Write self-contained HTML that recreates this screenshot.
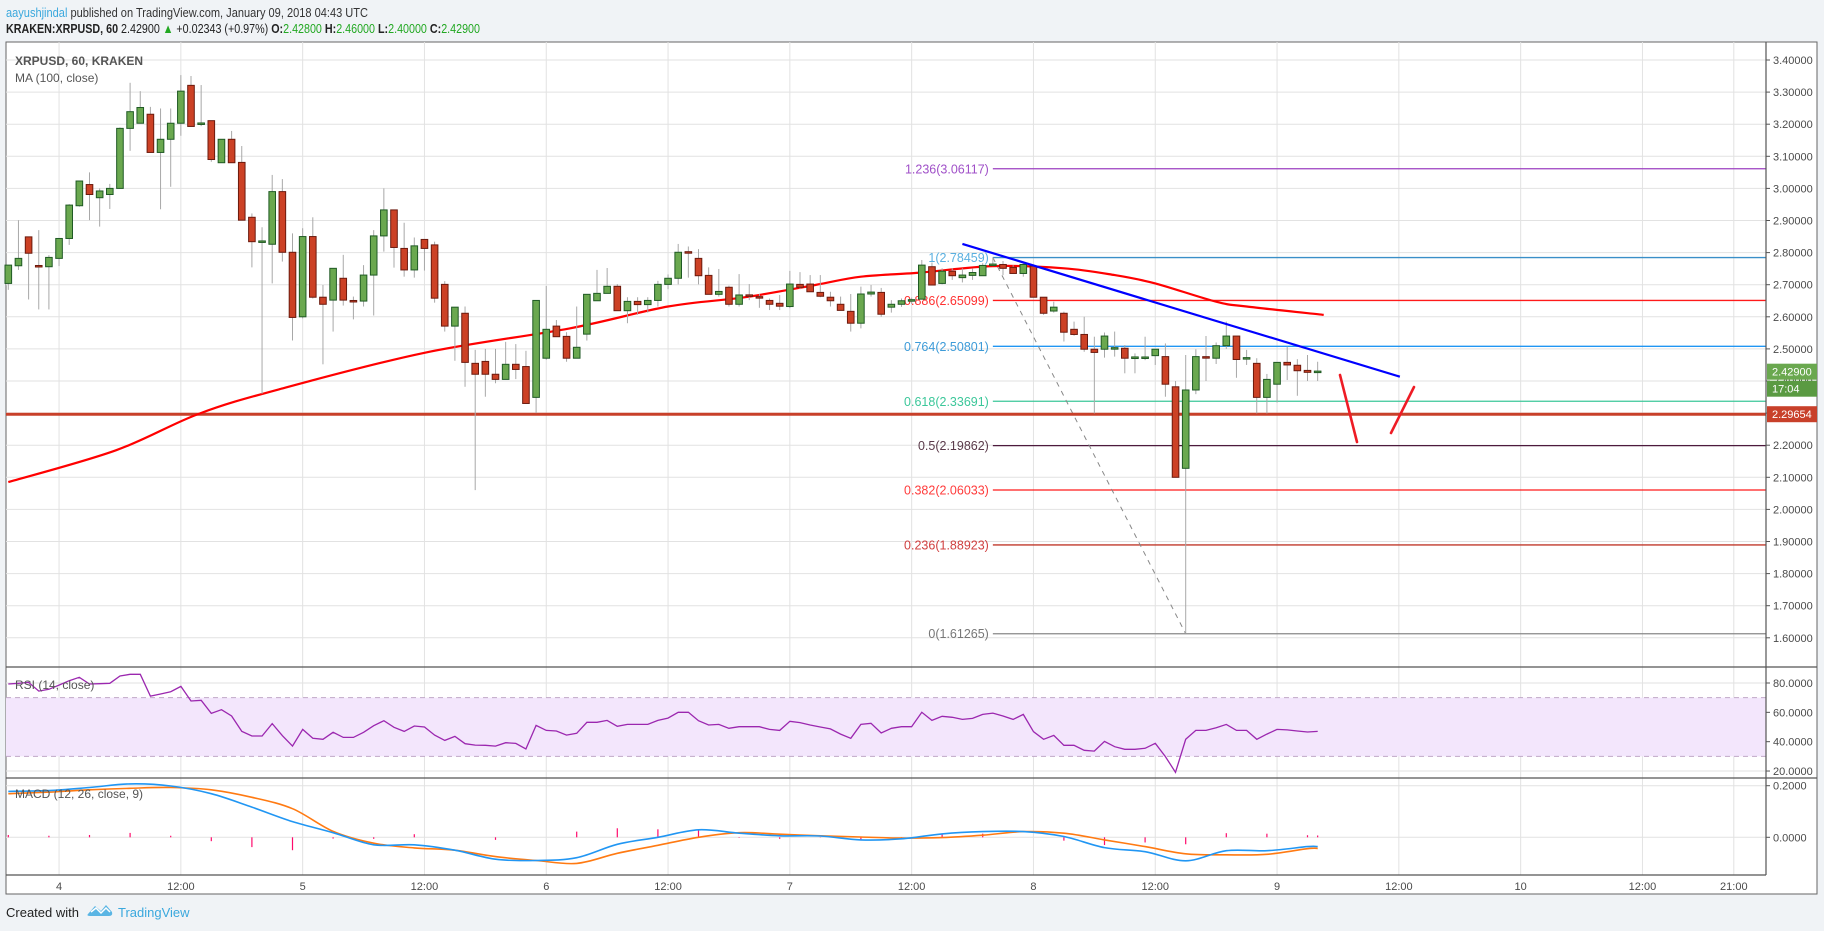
<!DOCTYPE html>
<html><head><meta charset="utf-8"><title>XRPUSD chart</title>
<style>
html,body{margin:0;padding:0;background:#f0f3f6;}
svg{display:block;font-family:"Liberation Sans",sans-serif;}
</style></head>
<body>
<svg id="chart" xmlns="http://www.w3.org/2000/svg" width="1824" height="931" viewBox="0 0 1824 931">
  <rect x="0" y="0" width="1824" height="931" fill="#f0f3f6"/>
  <text x="6" y="17" font-size="13" fill="#333" textLength="362" lengthAdjust="spacingAndGlyphs"><tspan fill="#3aa8dd">aayushjindal</tspan> published on TradingView.com, January 09, 2018 04:43 UTC</text>
  <text x="6" y="33" font-size="13" fill="#222" textLength="474" lengthAdjust="spacingAndGlyphs"><tspan font-weight="bold">KRAKEN:XRPUSD, 60</tspan> 2.42900 <tspan fill="#22a822">▲</tspan> +0.02343 (+0.97%) <tspan font-weight="bold">O:</tspan><tspan fill="#22a822">2.42800</tspan> <tspan font-weight="bold">H:</tspan><tspan fill="#22a822">2.46000</tspan> <tspan font-weight="bold">L:</tspan><tspan fill="#22a822">2.40000</tspan> <tspan font-weight="bold">C:</tspan><tspan fill="#22a822">2.42900</tspan></text>
  <rect x="6" y="42" width="1811" height="852" fill="#ffffff" stroke="#666" stroke-width="1"/>
  <g id="grid"></g>
  <g id="rsiBand"></g>
  <g id="fib"></g>
  <g id="ma"></g>
  <g id="candles"></g>
  <g id="drawings"></g>
  <g id="rsi"></g>
  <g id="macd"></g>
  <g id="axes"></g>
  <text x="15" y="65" font-size="12" font-weight="bold" fill="#555">XRPUSD, 60, KRAKEN</text>
  <text x="15" y="82" font-size="12" fill="#555">MA (100, close)</text>
  <text x="15" y="689" font-size="12" fill="#555">RSI (14, close)</text>
  <text x="15" y="798" font-size="12" fill="#555">MACD (12, 26, close, 9)</text>
  <text x="6" y="917" font-size="13" fill="#222">Created with</text>
  <g>
    <path d="M88 914 L95 906 L101 911 L106 905 L112 912 Q113 916 109 916 L91 916 Q86 916 88 914 Z" fill="#5ab5e4"/>
    <path d="M91 912 L96 908 L101 913 L106 908 L110 912" stroke="#fff" stroke-width="1.5" fill="none"/>
    <text x="118" y="917" font-size="13" fill="#3aa8dd">TradingView</text>
  </g>
</svg>
<script>
// ---------- data ----------
const opens  = [2.704,2.759,2.849,2.758,2.756,2.782,2.844,2.946,3.012,2.971,2.981,3.000,3.187,3.203,3.231,3.112,3.153,3.203,3.321,3.200,3.211,3.080,3.153,3.081,2.910,2.834,2.826,2.990,2.801,2.600,2.850,2.661,2.652,2.720,2.649,2.649,2.730,2.852,2.933,2.813,2.746,2.841,2.824,2.701,2.571,2.611,2.455,2.461,2.421,2.405,2.452,2.445,2.349,2.471,2.571,2.539,2.471,2.546,2.650,2.673,2.695,2.619,2.648,2.638,2.651,2.701,2.720,2.801,2.782,2.729,2.670,2.692,2.639,2.667,2.662,2.651,2.642,2.632,2.701,2.702,2.676,2.661,2.639,2.617,2.580,2.671,2.676,2.630,2.639,2.650,2.655,2.756,2.704,2.742,2.722,2.729,2.728,2.761,2.763,2.754,2.735,2.758,2.661,2.618,2.611,2.561,2.545,2.499,2.499,2.501,2.502,2.470,2.471,2.479,2.476,2.382,2.128,2.372,2.475,2.471,2.510,2.540,2.470,2.455,2.349,2.390,2.458,2.449,2.433,2.428];
const highs  = [2.761,2.901,2.849,2.870,2.792,2.844,2.951,3.023,3.050,3.000,3.014,3.190,3.329,3.303,3.254,3.249,3.249,3.353,3.350,3.322,3.211,3.153,3.179,3.132,2.922,2.879,3.042,3.029,2.860,2.876,2.910,2.699,2.751,2.793,2.663,2.761,2.870,3.000,2.933,2.893,2.847,2.841,2.834,2.711,2.630,2.632,2.497,2.500,2.500,2.522,2.515,2.494,2.651,2.696,2.590,2.552,2.632,2.670,2.746,2.752,2.702,2.661,2.661,2.661,2.712,2.732,2.827,2.819,2.811,2.754,2.749,2.697,2.733,2.702,2.671,2.657,2.668,2.743,2.739,2.730,2.730,2.678,2.663,2.671,2.694,2.699,2.690,2.652,2.657,2.660,2.777,2.769,2.751,2.751,2.751,2.751,2.767,2.785,2.774,2.761,2.770,2.758,2.661,2.647,2.616,2.585,2.600,2.538,2.551,2.554,2.512,2.486,2.538,2.499,2.517,2.400,2.481,2.499,2.540,2.520,2.585,2.540,2.497,2.471,2.422,2.458,2.507,2.468,2.481,2.460];
const lows   = [2.684,2.746,2.654,2.623,2.623,2.758,2.824,2.943,2.901,2.881,2.936,3.000,3.117,3.203,3.112,2.935,3.005,3.164,3.193,3.194,3.083,3.080,3.080,2.901,2.754,2.360,2.704,2.772,2.526,2.595,2.657,2.452,2.554,2.635,2.592,2.632,2.604,2.803,2.753,2.725,2.722,2.744,2.644,2.554,2.463,2.382,2.060,2.351,2.393,2.405,2.406,2.330,2.300,2.466,2.538,2.460,2.471,2.526,2.650,2.673,2.619,2.580,2.606,2.613,2.632,2.686,2.701,2.722,2.701,2.670,2.663,2.632,2.632,2.652,2.628,2.621,2.621,2.627,2.686,2.678,2.661,2.632,2.620,2.554,2.564,2.663,2.600,2.613,2.631,2.640,2.655,2.699,2.701,2.715,2.707,2.715,2.728,2.758,2.730,2.735,2.725,2.661,2.606,2.613,2.523,2.541,2.491,2.299,2.473,2.476,2.424,2.424,2.465,2.450,2.351,2.100,1.613,2.359,2.400,2.453,2.500,2.410,2.450,2.299,2.299,2.333,2.403,2.354,2.400,2.400];
const closes = [2.761,2.782,2.798,2.757,2.785,2.844,2.948,3.023,2.981,2.992,3.000,3.187,3.239,3.252,3.112,3.153,3.203,3.303,3.193,3.203,3.090,3.153,3.080,2.901,2.834,2.834,2.990,2.801,2.598,2.850,2.661,2.639,2.751,2.652,2.648,2.730,2.852,2.933,2.816,2.746,2.821,2.813,2.658,2.571,2.630,2.458,2.421,2.421,2.405,2.452,2.436,2.330,2.651,2.561,2.538,2.471,2.505,2.670,2.673,2.695,2.619,2.648,2.638,2.651,2.701,2.720,2.801,2.800,2.728,2.670,2.679,2.639,2.668,2.665,2.659,2.639,2.633,2.702,2.692,2.678,2.664,2.650,2.620,2.580,2.671,2.677,2.608,2.639,2.650,2.652,2.761,2.699,2.742,2.728,2.730,2.738,2.760,2.763,2.751,2.735,2.763,2.661,2.611,2.630,2.552,2.545,2.499,2.489,2.540,2.502,2.471,2.475,2.474,2.499,2.390,2.100,2.372,2.476,2.472,2.510,2.540,2.467,2.471,2.349,2.405,2.458,2.450,2.432,2.427,2.429];
const maIdx  = [0,10.6,18.7,26.8,41,55.3,65,72.6,79.5,84,90,97,104,109,113,119,122,129.6];
const maVals = [2.085,2.184,2.297,2.375,2.488,2.564,2.632,2.661,2.699,2.725,2.738,2.758,2.751,2.730,2.704,2.647,2.632,2.606];
const rsiVals = [79.3,79.8,80.4,74.5,75.7,78.6,81.6,83.9,79.3,79.5,79.8,84.8,85.9,85.9,71.1,72.5,74.1,77.7,67.7,68.2,59.3,61.8,57.5,47.0,43.9,43.9,52.3,44.1,37.0,48.4,42.3,41.6,46.4,42.9,42.9,46.4,50.9,54.3,49.8,47.0,50.7,50.0,44.5,40.9,43.6,38.6,37.7,37.5,37.0,39.3,38.8,35.0,51.1,47.7,47.3,44.5,45.7,53.2,53.2,54.5,50.5,51.8,51.8,51.8,54.5,56.1,60.0,60.0,54.3,51.4,51.8,49.1,50.2,50.2,50.2,48.4,47.7,53.9,53.0,51.4,50.0,48.7,45.2,42.3,51.8,52.5,45.9,49.1,50.2,50.2,60.0,54.5,57.3,56.6,55.2,55.9,58.6,59.5,57.5,55.2,58.6,46.8,41.6,44.3,37.5,37.5,34.1,33.6,40.2,36.6,34.8,34.8,35.5,38.9,29.8,19.1,41.6,47.7,47.7,49.5,51.8,47.7,47.7,41.6,45.2,48.4,48.0,47.3,46.6,47.0];
const macdIdx  = [0,4,8,12,16,20,24,28,32,36,40,44,48,52,56,60,64,68,72,76,80,84,88,92,96,100,104,108,112,116,120,124,128,129];
const macdVals = [0.178,0.181,0.193,0.207,0.199,0.169,0.117,0.061,0.018,-0.029,-0.029,-0.050,-0.085,-0.090,-0.079,-0.027,0.000,0.029,0.016,0.006,0.005,-0.010,-0.006,0.013,0.022,0.022,0.003,-0.040,-0.056,-0.091,-0.052,-0.052,-0.036,-0.036];
const signalVals = [0.169,0.175,0.184,0.190,0.193,0.184,0.155,0.111,0.023,-0.023,-0.041,-0.050,-0.075,-0.090,-0.101,-0.062,-0.031,0.000,0.018,0.012,0.006,0.001,-0.003,-0.001,0.008,0.022,0.016,-0.010,-0.036,-0.064,-0.068,-0.066,-0.044,-0.043];
const priceTicks = [3.4,3.3,3.2,3.1,3.0,2.9,2.8,2.7,2.6,2.5,2.4,2.3,2.2,2.1,2.0,1.9,1.8,1.7,1.6];
const rsiTicks = [80,60,40,20];
const macdTicks = [0.2,0.0];
const timeLabels = ["4","12:00","5","12:00","6","12:00","7","12:00","8","12:00","9","12:00","10","12:00","21:00"];
const timeIdx = [5,17,29,41,53,65,77,89,101,113,125,137,149,161,170];
const fibRatios = ["1.236","1","0.886","0.764","0.618","0.5","0.382","0.236","0"];
const fibPrices = [3.06117,2.78459,2.65099,2.50801,2.33691,2.19862,2.06033,1.88923,1.61265];
const fibColors = ["#9c3fc0","#3a8fc8","#ff1a1a","#2196f3","#3cc79a","#4d1a3d","#ff1a1a","#c0392b","#888888"];
const fibLabelColors = ["#a050c8","#5ab0e0","#ff3030","#3d9bd8","#3cc79a","#5a3a4a","#ff3b3b","#d04040","#777777"];
const supportLevel = 2.29654;
const trendIdx = [94.0,137.1];
const trendPrices = [2.827,2.4134];
const fibAnchorIdx = [97,116];
const fibAnchorPrices = [2.78459,1.61265];
const lastPrice = 2.429;

// ---------- axes ----------
const NS="http://www.w3.org/2000/svg";
const X0=6, X1=1766;
function xOf(i){return 8.3+i*10.15;}
function yP(p){return 60+(3.4-p)*321;}
function yR(v){return 683+(80-v)*1.467;}
function yM(m){return 837.3-m*258;}
function mk(tag,attrs,parent){const e=document.createElementNS(NS,tag);for(const k in attrs)e.setAttribute(k,attrs[k]);parent.appendChild(e);return e;}
function smooth(pts){let d='M'+pts[0][0].toFixed(1)+' '+pts[0][1].toFixed(1);
for(let k=0;k<pts.length-1;k++){const p0=pts[k-1]||pts[k],p1=pts[k],p2=pts[k+1],p3=pts[k+2]||p2;
const c1=[p1[0]+(p2[0]-p0[0])/6,p1[1]+(p2[1]-p0[1])/6],c2=[p2[0]-(p3[0]-p1[0])/6,p2[1]-(p3[1]-p1[1])/6];
d+='C'+c1[0].toFixed(1)+' '+c1[1].toFixed(1)+' '+c2[0].toFixed(1)+' '+c2[1].toFixed(1)+' '+p2[0].toFixed(1)+' '+p2[1].toFixed(1);}
return d;}

const grid=document.getElementById('grid');
priceTicks.forEach(p=>{const l=mk('line',{x1:X0,x2:X1,y1:yP(p),y2:yP(p),stroke:'#e2e2e2','stroke-width':1},grid);

});
timeIdx.forEach(i=>{const x=xOf(i);if(x>X1)return;const l=mk('line',{x1:x,x2:x,y1:42,y2:875,stroke:'#e2e2e2','stroke-width':1},grid);

});
rsiTicks.forEach(v=>{const l=mk('line',{x1:X0,x2:X1,y1:yR(v),y2:yR(v),stroke:'#e2e2e2'},grid);

});
macdTicks.forEach(v=>{const l=mk('line',{x1:X0,x2:X1,y1:yM(v),y2:yM(v),stroke:'#e2e2e2'},grid);

});

// RSI band
const band=document.getElementById('rsiBand');
mk('rect',{x:X0,y:yR(70),width:X1-X0,height:yR(30)-yR(70),fill:'#f3e6fc'},band);
[70,30].forEach(v=>{const l=mk('line',{x1:X0,x2:X1,y1:yR(v),y2:yR(v),stroke:'#c0a8c8','stroke-dasharray':'5,4'},band);

});

// Fib
const fib=document.getElementById('fib');
const fx0=xOf(fibAnchorIdx[0]);
fibPrices.forEach((p,k)=>{const y=yP(p);
const l=mk('line',{x1:fx0,x2:X1,y1:y,y2:y,stroke:fibColors[k],'stroke-width':1.3},fib);


const t=mk('text',{x:fx0-4,y:y+4.5,'font-size':12.5,'text-anchor':'end',fill:fibLabelColors[k]},fib);
t.textContent=fibRatios[k]+'('+p.toFixed(5)+')';

});
const dl=mk('line',{x1:xOf(fibAnchorIdx[0]),y1:yP(fibAnchorPrices[0]),x2:xOf(fibAnchorIdx[1]),y2:yP(fibAnchorPrices[1]),stroke:'#888','stroke-dasharray':'5,5','stroke-width':1},fib);



// support line
const sup=mk('line',{x1:X0,x2:X1,y1:yP(supportLevel),y2:yP(supportLevel),stroke:'#c8402a','stroke-width':3},fib);



// MA
const ma=document.getElementById('ma');
const mp=mk('path',{d:smooth(maIdx.map((i,k)=>[xOf(i),yP(maVals[k])])),stroke:'#ff0000','stroke-width':2.2,fill:'none','stroke-linejoin':'round'},ma);



// candles
const cg=document.getElementById('candles');
closes.forEach((c,i)=>{const o=opens[i],x=xOf(i);const up=c>=o;
const w=mk('line',{x1:x,x2:x,y1:yP(highs[i]),y2:yP(lows[i]),stroke:'#a8a8a8','stroke-width':1},cg);


let top=yP(Math.max(o,c)),bot=yP(Math.min(o,c));if(bot-top<1.5){const m=(top+bot)/2;top=m-0.75;bot=m+0.75;}
const r=mk('rect',{x:x-3.3,y:top,width:6.6,height:bot-top,fill:up?'#6aa84f':'#cc4125',stroke:up?'#1f5a24':'#6b1a0e','stroke-width':1},cg);

});

// drawings
const dr=document.getElementById('drawings');
const tl=mk('line',{x1:xOf(trendIdx[0]),y1:yP(trendPrices[0]),x2:xOf(trendIdx[1]),y2:yP(trendPrices[1]),stroke:'#0000ff','stroke-width':2.2},dr);


const a1=mk('line',{x1:1340,y1:375,x2:1357,y2:442,stroke:'#ee1c25','stroke-width':2.6,'stroke-linecap':'round'},dr);


const a2=mk('line',{x1:1391,y1:433,x2:1414,y2:387,stroke:'#ee1c25','stroke-width':2.6,'stroke-linecap':'round'},dr);



// RSI
const rg=document.getElementById('rsi');
let rd='';rsiVals.forEach((v,i)=>{rd+=(i?'L':'M')+xOf(i).toFixed(1)+' '+yR(v).toFixed(1);});
const rp=mk('path',{d:rd,stroke:'#9b27af','stroke-width':1.3,fill:'none'},rg);



// MACD
const mg=document.getElementById('macd');
macdIdx.forEach((i,k)=>{const h=macdVals[k]-signalVals[k];const x=xOf(i);
const b=mk('line',{x1:x,x2:x,y1:yM(0),y2:yM(h),stroke:'#ff0a6c','stroke-width':1.2},mg);

});
const sp=mk('path',{d:smooth(macdIdx.map((i,k)=>[xOf(i),yM(signalVals[k])])),stroke:'#ff7a12','stroke-width':1.6,fill:'none'},mg);


const bp=mk('path',{d:smooth(macdIdx.map((i,k)=>[xOf(i),yM(macdVals[k])])),stroke:'#2196f3','stroke-width':1.6,fill:'none'},mg);



// axes & separators
const ax=document.getElementById('axes');
[[X0,667,1817,667],[X0,778,1817,778],[X0,875,X1,875],[X1,42,X1,875]].forEach(s=>{const l=mk('line',{x1:s[0],y1:s[1],x2:s[2],y2:s[3],stroke:'#555','stroke-width':1.2},ax);

});
priceTicks.forEach(p=>{const y=yP(p);mk('line',{x1:X1,x2:X1+4,y1:y,y2:y,stroke:'#555'},ax);
const t=mk('text',{x:1773,y:y+4,'font-size':11,fill:'#4a4a4a'},ax);t.textContent=p.toFixed(5);

});
rsiTicks.forEach(v=>{const y=yR(v);mk('line',{x1:X1,x2:X1+4,y1:y,y2:y,stroke:'#555'},ax);
const t=mk('text',{x:1773,y:y+4,'font-size':11,fill:'#4a4a4a'},ax);t.textContent=v.toFixed(4);

});
macdTicks.forEach(v=>{const y=yM(v);mk('line',{x1:X1,x2:X1+4,y1:y,y2:y,stroke:'#555'},ax);
const t=mk('text',{x:1773,y:y+4,'font-size':11,fill:'#4a4a4a'},ax);t.textContent=v.toFixed(4);

});
timeIdx.forEach((i,k)=>{const x=xOf(i);if(x>X1)return;
const t=mk('text',{x:x,y:890,'font-size':11,'text-anchor':'middle',fill:'#4a4a4a'},ax);t.textContent=timeLabels[k];

});
// price boxes
function box(y,bg,txt,name){const g=mk('g',{},ax);


mk('rect',{x:X1+1,y:y-8,width:50,height:16,fill:bg},g);
const t=mk('text',{x:X1+6,y:y+4,'font-size':11,fill:'#fff'},g);t.textContent=txt;}
box(yP(lastPrice),'#6aa84f',lastPrice.toFixed(5),'last-price-label');
box(yP(lastPrice)+17,'#5a9a42','17:04','bar-countdown-label');
box(yP(supportLevel),'#c8402a',supportLevel.toFixed(5),'support-price-label');
</script>
</body></html>
